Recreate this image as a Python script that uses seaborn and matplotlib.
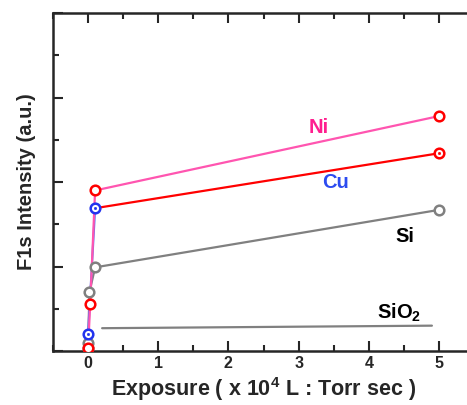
import numpy as np
import pandas as pd
import matplotlib
matplotlib.use("Agg")
import matplotlib.pyplot as plt
import seaborn as sns
from matplotlib.ticker import MultipleLocator

# exposure (x 10^4 L) and F1s intensity (a.u.)
ni_x = [0.0, 0.03, 0.1, 5.0]
ni_y = [0.03, 0.56, 1.90, 2.78]

cu_low_x = [0.0, 0.1]
cu_low_y = [0.20, 1.69]
cu_high_x = [0.1, 5.0]
cu_high_y = [1.69, 2.34]

si_x = [0.0, 0.0, 0.02, 0.1, 5.0]
si_y = [0.04, 0.10, 0.70, 0.99, 1.67]

sio2_x = [0.2, 4.9]
sio2_y = [0.27, 0.30]

labels = ["Ni", "Cu", "Si", "SiO$_\\mathbf{2}$"]
label_x = [3.28, 3.53, 4.52, 4.43]
label_y = [2.65, 1.99, 1.35, 0.45]
label_colors = ["#FF1F8F", "#2C4BF0", "black", "black"]

PINK = "#FF55B0"
RED = "#FF0000"
BLUE = "#2233EE"
BLUE_LINE = "#6070F0"
GRAY = "#808080"


def line(ax, x, y, color):
    df = pd.DataFrame({"x": x, "y": y})
    sns.lineplot(data=df, x="x", y="y", ax=ax, color=color, lw=1.6,
                 sort=False, estimator=None, zorder=2)


def circles(ax, x, y, color, dot=False):
    df = pd.DataFrame({"x": x, "y": y})
    sns.scatterplot(data=df, x="x", y="y", ax=ax, s=48, marker="o",
                    facecolors="white", edgecolor=color, linewidth=1.8, zorder=3)
    if dot:
        sns.scatterplot(data=df, x="x", y="y", ax=ax, s=4, color=color,
                        edgecolor=color, zorder=4)


def main():
    sns.set_style("ticks")
    plt.rcParams["font.family"] = ["Liberation Sans", "DejaVu Sans"]
    plt.rcParams["font.weight"] = "bold"
    plt.rcParams["mathtext.fontset"] = "custom"
    plt.rcParams["mathtext.bf"] = "Liberation Sans:bold"
    plt.rcParams["mathtext.rm"] = "Liberation Sans:bold"

    fig = plt.figure(figsize=(4.67, 4.05), dpi=100)
    ax = fig.add_axes([0.1135, 0.1333, 0.9015, 0.8346])

    line(ax, sio2_x, sio2_y, GRAY)
    line(ax, si_x, si_y, GRAY)
    line(ax, cu_low_x, cu_low_y, BLUE_LINE)
    line(ax, ni_x, ni_y, PINK)
    line(ax, cu_high_x, cu_high_y, RED)

    circles(ax, si_x, si_y, GRAY)
    circles(ax, ni_x, ni_y, RED)
    circles(ax, cu_low_x, cu_low_y, BLUE, dot=True)
    circles(ax, cu_high_x[1:], cu_high_y[1:], RED, dot=True)

    for t, x, y, c in zip(labels, label_x, label_y, label_colors):
        ax.text(x, y, t, color=c, fontsize=14.5, fontweight="bold",
                ha="center", va="center")

    ax.set_xlim(-0.5, 5.5)
    ax.set_ylim(0, 4)
    ax.xaxis.set_major_locator(MultipleLocator(1))
    ax.xaxis.set_minor_locator(MultipleLocator(0.5))
    ax.yaxis.set_major_locator(MultipleLocator(1))
    ax.yaxis.set_minor_locator(MultipleLocator(0.5))
    ax.set_yticklabels([])
    ax.tick_params(which="both", direction="in", top=True, right=False,
                   width=1.5, labelsize=11.5)
    ax.tick_params(which="major", length=7)
    ax.tick_params(which="minor", length=4)
    for sp in ax.spines.values():
        sp.set_visible(True)
        sp.set_linewidth(1.8)
    ax.spines["right"].set_visible(False)
    for lab in ax.get_xticklabels():
        lab.set_fontweight("bold")

    ax.set_xlabel("Exposure ( x 10$^\\mathbf{4}$ L : Torr sec )",
                  fontsize=15.5, fontweight="bold", labelpad=3)
    ax.set_ylabel("F1s Intensity (a.u.)", fontsize=14.5,
                  fontweight="bold", labelpad=9)

    fig.savefig("out.png", dpi=100)


if __name__ == "__main__":
    main()
